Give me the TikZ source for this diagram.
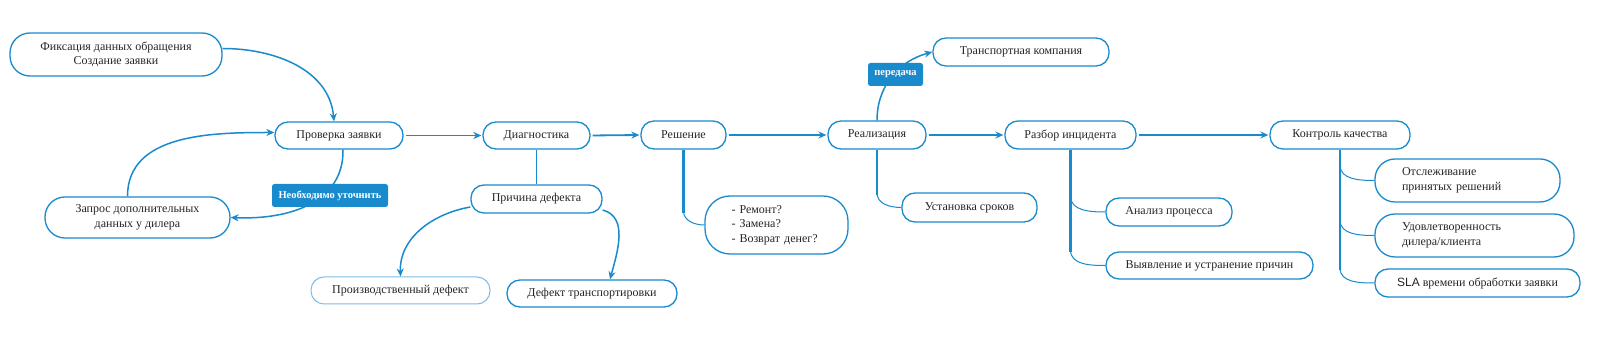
\documentclass[tikz,border=0pt]{standalone}
\usepackage{fontspec}
\setmainfont{Liberation Serif}
\newfontfamily\slafont{Liberation Sans}
\usetikzlibrary{arrows.meta,calc}
\definecolor{mblue}{RGB}{25,138,204}
\definecolor{lblue}{RGB}{125,188,232}
\begin{document}
\begin{tikzpicture}[x=1pt,y=1pt,
  font=\fontsize{12}{14.5}\selectfont,
  box/.style={draw=mblue, line width=1.3pt, rounded corners=13pt, fill=white,
    inner sep=0pt, minimum height=28pt, align=center, text=black!85},
  tall/.style={rounded corners=20pt},
  tag/.style={fill=mblue, rounded corners=2.5pt, text=white, inner sep=0pt,
    font=\fontsize{10.5}{12}\selectfont\bfseries},
  arr/.style={draw=mblue, line width=1.5pt, -{Stealth[length=8pt,width=7pt]}},
  mainarr/.style={arr, line width=1.8pt, shorten <=2pt, shorten >=1pt},
  link/.style={draw=mblue, line width=1pt},
  trunk/.style={draw=mblue, line width=2.8pt},
  twig/.style={draw=mblue, line width=1pt}
]
\fill[white] (0,0) rectangle (1600,342);
\useasboundingbox (0,0) rectangle (1600,342);

% main row
\node[box, tall, minimum width=212pt, minimum height=43pt] (fix) at (116,287.5) {Фиксация данных обращения\\Создание заявки};
\node[box, minimum width=128pt, minimum height=27pt] (prov) at (339,206.5) {Проверка заявки};
\node[box, tall, minimum width=185pt, minimum height=41pt] (zap) at (137.5,124.5) {Запрос дополнительных\\данных у дилера};
\node[box, minimum width=107pt, minimum height=27pt] (diag) at (536.5,206.5) {Диагностика};
\node[box, minimum width=131pt] (prich) at (536.5,143) {Причина дефекта};
\node[box, draw=lblue, line width=1pt, minimum width=179pt, minimum height=27pt] (proizv) at (400.5,51.5) {Производственный дефект};
\node[box, minimum width=170pt, minimum height=27pt] (transdef) at (592,48.5) {Дефект транспортировки};
\node[box, minimum width=85pt] (resh) at (683.5,207) {Решение};
\node[box, rounded corners=25pt, minimum width=143pt, minimum height=58pt, text width=90pt, align=left] (rem) at (776.5,117) {- Ремонт?\\- Замена?\\- Возврат денег?};
\node[box, minimum width=98pt] (real) at (877,207) {Реализация};
\node[box, minimum width=176pt] (transp) at (1021,290) {Транспортная компания};
\node[box, minimum width=135pt, minimum height=29pt] (ust) at (969.5,134.5) {Установка сроков};
\node[box, minimum width=131pt] (razb) at (1070.5,207) {Разбор инцидента};
\node[box, minimum width=126pt] (analiz) at (1169,130) {Анализ процесса};
\node[box, minimum width=207pt, minimum height=27pt] (vyyav) at (1209.5,76.5) {Выявление и устранение причин};
\node[box, minimum width=140pt] (kontr) at (1340,207) {Контроль качества};
\node[box, tall, minimum width=185pt, minimum height=43pt, text width=131pt, align=left] (otsl) at (1467.5,161.5) {Отслеживание\\принятых решений};
\node[box, tall, minimum width=199pt, minimum height=43pt, text width=145pt, align=left] (udov) at (1474.5,106.5) {Удовлетворенность\\дилера/клиента};
\node[box, minimum width=205pt] (sla) at (1477.5,59) {{\slafont SLA} времени обработки заявки};

% main arrows
\draw[mainarr] (prov.east) -- (diag.west);
\draw[mainarr] (diag.east) -- (resh.west);
\draw[mainarr] (resh.east) -- (real.west);
\draw[mainarr] (real.east) -- (razb.west);
\draw[mainarr] (razb.east) -- (kontr.west);

% curved arrows
\draw[arr] ([yshift=6pt]fix.east) to[out=0,in=95] ([xshift=-5pt]prov.north);
\draw[arr] ([xshift=-10pt]zap.north) to[out=90,in=180] ([yshift=3pt]prov.west);
\draw[arr] ([xshift=4pt]prov.south) .. controls (344,140) and (290,122) .. (zap.east);
\draw[link] (diag.south) -- (prich.north);
\draw[arr] ([yshift=-8pt]prich.west) to[out=190,in=92] (proizv.north);
\draw[arr] ([yshift=-11pt]prich.east) to[out=-15,in=75] ([xshift=18pt]transdef.north);
\draw[arr] (real.north) to[out=90,in=195] (transp.west);

% tree branches
\draw[twig] (resh.south |- 0,131) to[out=-90,in=180] (rem.west);
\draw[trunk] (resh.south) -- (resh.south |- 0,129);
\draw[twig] (real.south |- 0,149) to[out=-90,in=180] (ust.west);
\draw[trunk] (real.south) -- (real.south |- 0,147);
\draw[twig] (razb.south |- 0,146) to[out=-90,in=180] (analiz.west);
\draw[twig] (razb.south |- 0,92) to[out=-90,in=180] (vyyav.west);
\draw[trunk] (razb.south) -- (razb.south |- 0,90);
\draw[twig] (kontr.south |- 0,177) to[out=-90,in=180] (otsl.west);
\draw[twig] (kontr.south |- 0,122) to[out=-90,in=180] (udov.west);
\draw[twig] (kontr.south |- 0,74) to[out=-90,in=180] (sla.west);
\draw[trunk] (kontr.south) -- (kontr.south |- 0,72);

% tags
\node[tag, minimum width=116pt, minimum height=23pt] (need) at (330,146.5) {Необходимо уточнить};
\node[tag, minimum width=55pt, minimum height=23pt] (pered) at (895.5,267.5) {передача};
\end{tikzpicture}
\end{document}
